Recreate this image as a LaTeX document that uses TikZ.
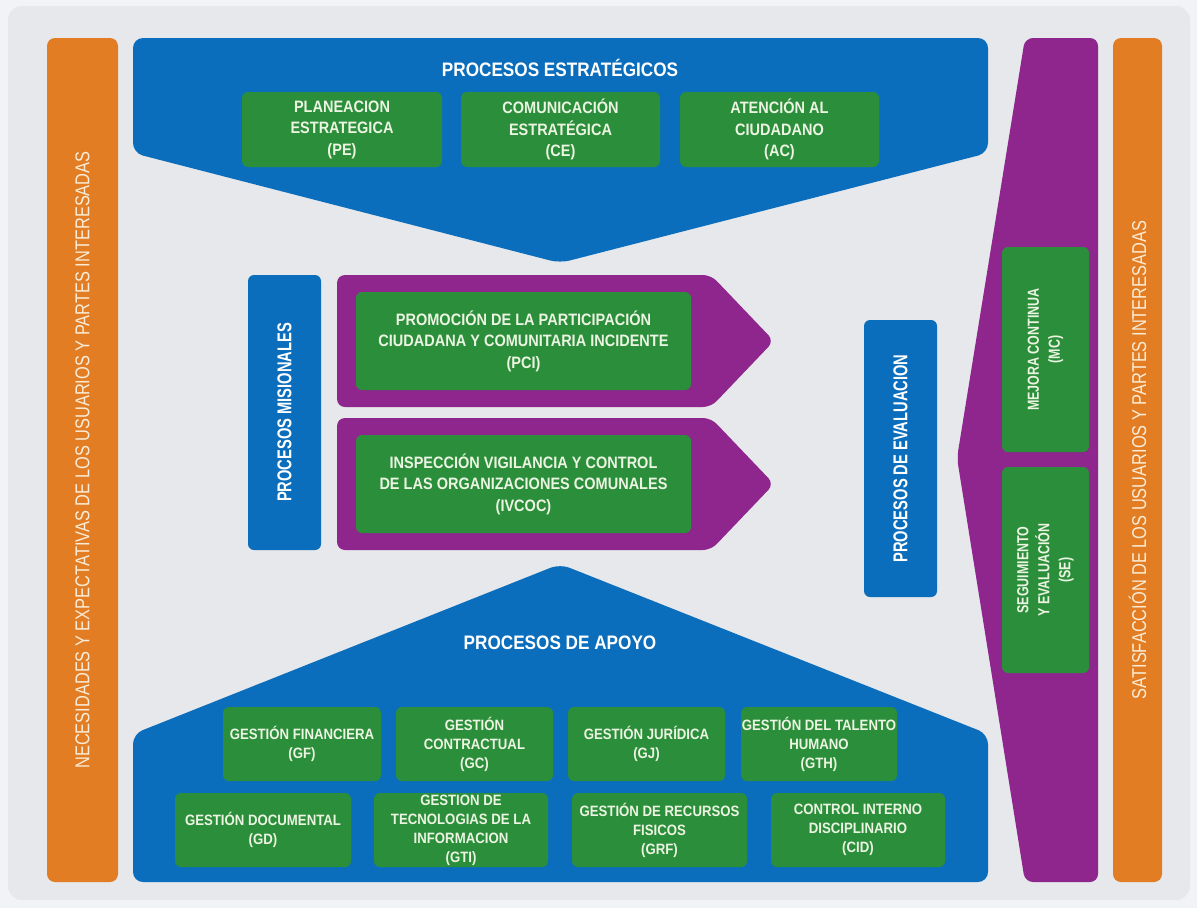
\documentclass[tikz,border=0pt]{standalone}
\usepackage{fontspec}
\setmainfont{Liberation Sans}
\newfontfamily\fA{Liberation Sans}[FakeStretch=0.88]
\newfontfamily\fC{Liberation Sans}[FakeStretch=0.78]
\newfontfamily\fE{Liberation Sans}[FakeStretch=0.735]
\newfontfamily\fO{Liberation Sans}[FakeStretch=0.82]
\definecolor{pagebg}{RGB}{241,243,246}
\definecolor{panel}{RGB}{230,232,235}
\definecolor{blu}{RGB}{11,110,188}
\definecolor{grn}{RGB}{42,142,58}
\definecolor{pur}{RGB}{142,38,142}
\definecolor{org}{RGB}{226,125,36}
\definecolor{boxtxt}{RGB}{236,244,226}
\definecolor{orgtxt}{RGB}{250,236,214}
\begin{document}
\begin{tikzpicture}[x=1pt,y=-1pt,
  gbox/.style={fill=grn, rounded corners=6pt, text=boxtxt, align=center, inner sep=0pt,
    font=\fA\bfseries\fontsize{16.5}{21.5}\selectfont},
  abox/.style={gbox, font=\fA\bfseries\fontsize{15}{19}\selectfont},
  vbox/.style={gbox, rotate=90, font=\fC\bfseries\fontsize{16}{21}\selectfont},
  title/.style={text=white, font=\fA\bfseries\fontsize{19.5}{22}\selectfont, inner sep=0pt},
  bluebar/.style={fill=blu, rounded corners=6pt, rotate=90, text=white, inner sep=0pt,
    font=\fE\bfseries\fontsize{20}{22}\selectfont},
  orgbar/.style={fill=org, rounded corners=8pt, rotate=90, text=orgtxt, inner sep=0pt,
    font=\fO\fontsize{20}{22}\selectfont},
  bigshape/.style={rounded corners=10pt}]
\useasboundingbox (0,0) rectangle (1197,908);
\fill[pagebg] (0,0) rectangle (1197,908);
\fill[panel, rounded corners=14pt] (8,6) rectangle (1190,900);

% side bars
\node[orgbar, minimum width=844pt, minimum height=71pt] (nec) at (82.5,460)
  {NECESIDADES Y EXPECTATIVAS DE LOS USUARIOS Y PARTES INTERESADAS};
\node[orgbar, minimum width=844pt, minimum height=49pt] (sat) at (1137.5,460)
  {SATISFACCIÓN DE LOS USUARIOS Y PARTES INTERESADAS};

% top strategic shape
\fill[blu, bigshape] (133,38) -- (988,38) -- (988,153) -- (560,263) -- (133,153) -- cycle;
\node[title] (est) at (560,68) {PROCESOS ESTRATÉGICOS};
\node[gbox, minimum width=200pt, minimum height=75pt] (pe) at (342,129.5) {PLANEACION\\ESTRATEGICA\\(PE)};
\node[gbox, minimum width=199pt, minimum height=75pt] (ce) at (560.5,129.5) {COMUNICACIÓN\\ESTRATÉGICA\\(CE)};
\node[gbox, minimum width=199pt, minimum height=75pt] (ac) at (779.5,129.5) {ATENCIÓN AL\\CIUDADANO\\(AC)};

% missional
\node[bluebar, minimum width=275pt, minimum height=73pt] (mis) at (284.5,412.5) {PROCESOS MISIONALES};
\fill[pur, rounded corners=8pt] (337,275) -- (711,275) -- (774,341) -- (711,407) -- (337,407) -- cycle;
\fill[pur, rounded corners=8pt] (337,418) -- (711,418) -- (774,484) -- (711,550) -- (337,550) -- cycle;
\node[gbox, minimum width=335pt, minimum height=98pt] (pci) at (523.5,341)
  {PROMOCIÓN DE LA PARTICIPACIÓN\\CIUDADANA Y COMUNITARIA INCIDENTE\\(PCI)};
\node[gbox, minimum width=335pt, minimum height=98pt] (ivc) at (523.5,484)
  {INSPECCIÓN VIGILANCIA Y CONTROL\\DE LAS ORGANIZACIONES COMUNALES\\(IVCOC)};

% evaluation
\node[bluebar, minimum width=277pt, minimum height=73pt] (eva) at (900.5,458.5) {PROCESOS DE EVALUACION};
\fill[pur, rounded corners=8pt] (1025,38) -- (1098,38) -- (1098,882) -- (1025,882) -- (957,458) -- cycle;
\node[vbox, minimum width=205pt, minimum height=87pt] (mc) at (1045.5,349.5) {MEJORA CONTINUA\\(MC)};
\node[vbox, minimum width=206pt, minimum height=87pt] (se) at (1045.5,570) {SEGUIMIENTO\\Y EVALUACIÓN\\(SE)};

% support
\fill[blu, bigshape] (560,564) -- (988,734) -- (988,882) -- (133,882) -- (133,734) -- cycle;
\node[title] (apo) at (560,643) {PROCESOS DE APOYO};
\node[abox, minimum width=158pt, minimum height=74pt] (gf) at (302,744) {GESTIÓN FINANCIERA\\(GF)};
\node[abox, minimum width=157pt, minimum height=74pt] (gc) at (474.5,744) {GESTIÓN\\CONTRACTUAL\\(GC)};
\node[abox, minimum width=157pt, minimum height=74pt] (gj) at (646.5,744) {GESTIÓN JURÍDICA\\(GJ)};
\node[abox, minimum width=156pt, minimum height=74pt] (gth) at (819,744) {GESTIÓN DEL TALENTO\\HUMANO\\(GTH)};
\node[abox, minimum width=176pt, minimum height=74pt] (gd) at (263,830) {GESTIÓN DOCUMENTAL\\(GD)};
\node[abox, minimum width=174pt, minimum height=74pt] (gti) at (461,830) {GESTION DE\\TECNOLOGIAS DE LA\\INFORMACION\\(GTI)};
\node[abox, minimum width=175pt, minimum height=74pt] (grf) at (659.5,830) {GESTIÓN DE RECURSOS\\FISICOS\\(GRF)};
\node[abox, minimum width=174pt, minimum height=74pt] (cid) at (858,830) {CONTROL INTERNO\\DISCIPLINARIO\\(CID)};
\end{tikzpicture}
\end{document}
